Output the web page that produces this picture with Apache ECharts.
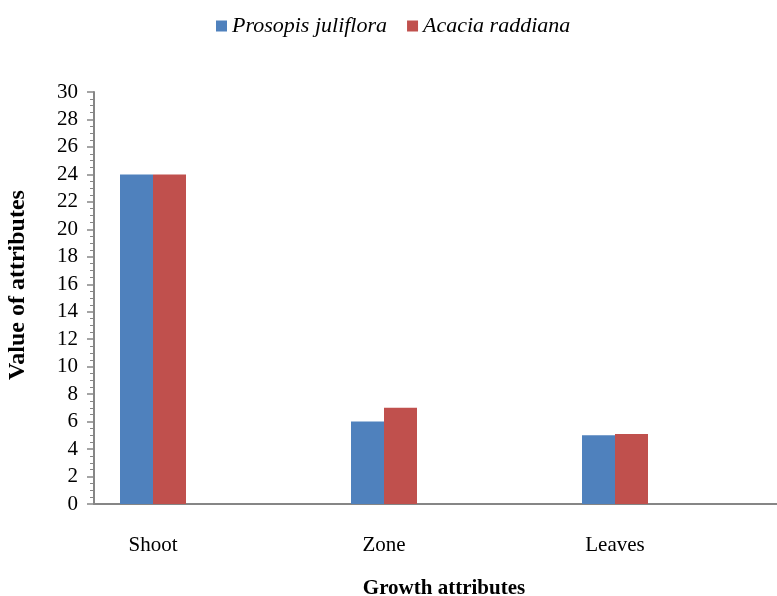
<!DOCTYPE html>
<html>
<head>
<meta charset="utf-8">
<script src="https://cdn.jsdelivr.net/npm/echarts@6/dist/echarts.min.js"></script>
<style>
  html, body { margin: 0; padding: 0; background: #fff; }
  #chart { width: 777px; height: 596px; }
</style>
</head>
<body>
<div id="chart"></div>
<script>
// Growth attributes of the two species
const categories = ['Shoot', 'Zone', 'Leaves'];
const prosopis = [24, 6, 5];
const acacia = [24, 7, 5.1];
const seriesNames = ['Prosopis juliflora', 'Acacia raddiana'];
const yMin = 0, yMax = 30, yStep = 2;

const serif = 'Liberation Serif, Times New Roman, serif';
const axisGrey = '#868686';

const chart = echarts.init(document.getElementById('chart'));
chart.setOption({
  animation: false,
  backgroundColor: '#fff',
  legend: {
    top: 10,
    left: 211,
    icon: 'rect',
    itemWidth: 11,
    itemHeight: 11,
    itemGap: 20,
    textStyle: { fontFamily: serif, fontStyle: 'italic', fontSize: 22, color: '#000' },
    data: seriesNames
  },
  grid: [
    // frame for the visible axes
    { left: 94, right: 0, top: 92, height: 412, containLabel: false, outerBoundsMode: 'none' },
    // plotting area holding the bars
    { left: 37.5, width: 693, top: 92, height: 412, containLabel: false, outerBoundsMode: 'none' }
  ],
  xAxis: [
    {
      gridIndex: 0, type: 'value', min: 0, max: 1,
      axisLine: { show: true, lineStyle: { color: axisGrey, width: 2 } },
      axisTick: { show: false }, axisLabel: { show: false }, splitLine: { show: false }
    },
    {
      gridIndex: 1, type: 'category', data: categories,
      axisLine: { show: false }, axisTick: { show: false }, splitLine: { show: false },
      axisLabel: { margin: 31, fontFamily: serif, fontSize: 21, color: '#000' },
      name: 'Growth attributes', nameLocation: 'middle', nameGap: 74,
      nameTextStyle: { fontFamily: serif, fontWeight: 'bold', fontSize: 21, color: '#000', padding: [0, 0, 0, 120] }
    }
  ],
  yAxis: [
    {
      gridIndex: 0, type: 'value', min: yMin, max: yMax, interval: yStep,
      axisLine: { show: true, lineStyle: { color: axisGrey, width: 2 } },
      axisTick: { show: true, inside: false, length: 7, lineStyle: { color: axisGrey, width: 1.5 } },
      minorTick: { show: true, splitNumber: 4, length: 4, lineStyle: { color: axisGrey, width: 1 } },
      splitLine: { show: false },
      axisLabel: { margin: 16, fontFamily: serif, fontSize: 21, color: '#000' },
      name: 'Value of attributes', nameLocation: 'middle', nameGap: 64, nameRotate: 90,
      nameTextStyle: { fontFamily: serif, fontWeight: 'bold', fontSize: 24, color: '#000', padding: [0, 0, 0, 26] }
    },
    {
      gridIndex: 1, type: 'value', min: yMin, max: yMax, interval: yStep, show: false
    }
  ],
  series: [
    {
      name: seriesNames[0], type: 'bar', xAxisIndex: 1, yAxisIndex: 1,
      data: prosopis, barWidth: 33, barGap: '0%',
      itemStyle: { color: '#4F81BD' }
    },
    {
      name: seriesNames[1], type: 'bar', xAxisIndex: 1, yAxisIndex: 1,
      data: acacia, barWidth: 33, barGap: '0%',
      itemStyle: { color: '#C0504D' }
    }
  ]
});
</script>
</body>
</html>
